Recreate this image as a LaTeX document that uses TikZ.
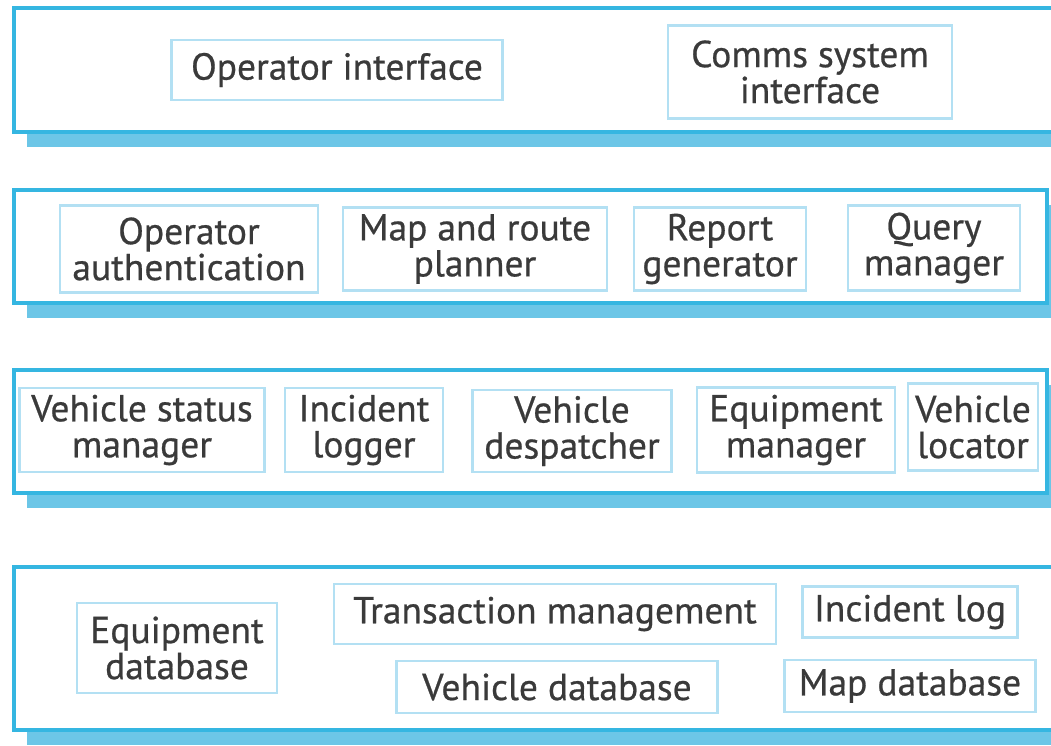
\documentclass[tikz,border=0pt]{standalone}
\usepackage{fontspec}
\setmainfont{PT Sans}
\newfontfamily\compfont[FakeBold=0.6]{PT Sans}
\definecolor{laybl}{HTML}{35B6E1}
\definecolor{shadebl}{HTML}{6CC6E7}
\definecolor{compbl}{HTML}{B3E0F3}
\definecolor{txt}{HTML}{3A3A3A}
\begin{document}
\begin{tikzpicture}
    [%%%%%%%%%%%%%%%%%%%%%%%%%%%%%%
        x=1pt, y=-1pt,
        layer/.style={draw=laybl, line width=3.5pt, fill=white},
        shade/.style={fill=shadebl},
        comp/.style={draw=compbl, line width=2.5pt, fill=white, align=center,
                     inner sep=0pt, text=txt,
                     font=\compfont\fontsize{37.5}{36}\selectfont},
    ]%%%%%%%%%%%%%%%%%%%%%%%%%%%%%%

\useasboundingbox (0,0) rectangle (1051,745);

\foreach \t/\b/\r in {8/132/1060, 190/303/1047, 370/493/1047, 567/730/1060}{
    \fill[shade] (27,\t+15) rectangle (1060,\b+15);
    \draw[layer] (14,\t) rectangle (\r,\b);
}

% layer 1
\node[comp, minimum width=331, minimum height=60] (opif) at (337,70) {Operator interface};
\node[comp, minimum width=284, minimum height=93] (comif) at (810,72) {Comms system\\interface};

% layer 2
\node[comp, minimum width=258, minimum height=87] (opauth) at (189,249) {Operator\\authentication};
\node[comp, minimum width=264, minimum height=83] (maprt) at (475,249) {Map and route\\planner};
\node[comp, minimum width=172, minimum height=83] (repgen) at (720,249) {Report\\generator};
\node[comp, minimum width=172, minimum height=85] (qrymgr) at (934,248) {Query\\manager};

% layer 3
\node[comp, minimum width=245, minimum height=84] (vsmgr) at (142,430) {Vehicle status\\manager};
\node[comp, minimum width=158, minimum height=84] (inclog) at (364,430) {Incident\\logger};
\node[comp, minimum width=199, minimum height=82] (vdesp) at (572,431) {Vehicle\\despatcher};
\node[comp, minimum width=198, minimum height=85] (eqmgr) at (796,430) {Equipment\\manager};
\node[comp, minimum width=130, minimum height=87] (vloc) at (973,427) {Vehicle\\locator};

% layer 4
\node[comp, minimum width=200, minimum height=90] (eqdb) at (177,648) {Equipment\\database};
\node[comp, minimum width=442, minimum height=60] (trans) at (555,614) {Transaction management};
\node[comp, minimum width=215, minimum height=51] (ilog) at (910,612) {Incident log};
\node[comp, minimum width=321, minimum height=52] (vdb) at (557,687) {Vehicle database};
\node[comp, minimum width=251, minimum height=52] (mapdb) at (910,686) {Map database};
\end{tikzpicture}
\end{document}
